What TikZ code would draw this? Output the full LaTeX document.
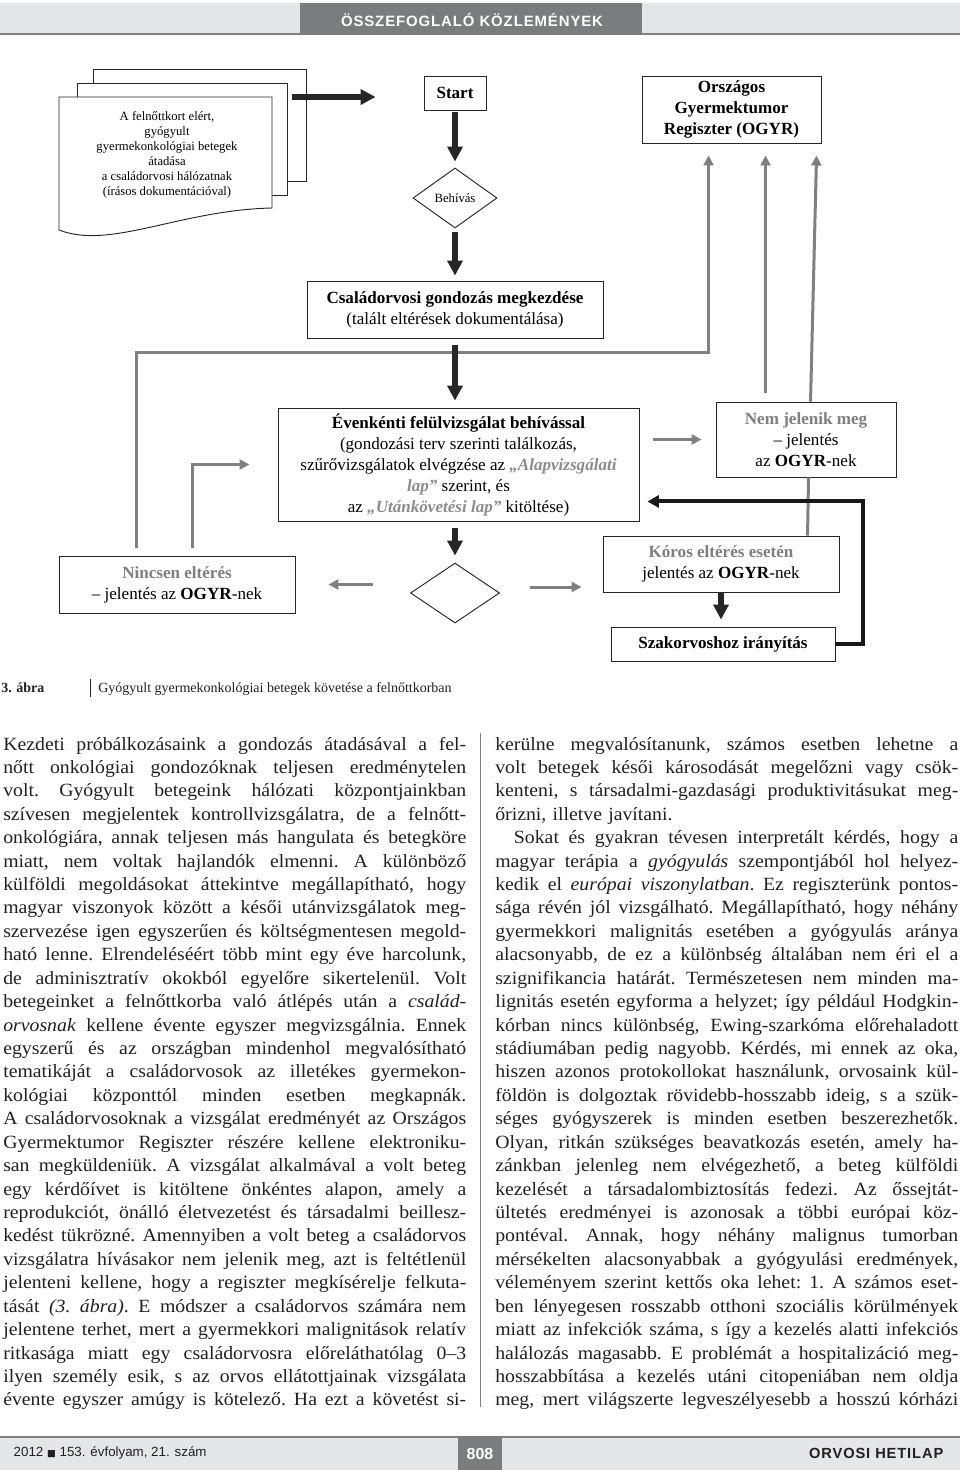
\documentclass[tikz,border=0pt]{standalone}
\usepackage{fontspec}
\setmainfont{Liberation Serif}
\newfontfamily\sansf{Liberation Sans}
\newfontfamily\hdfont{Liberation Sans}[LetterSpace=6]
\newfontfamily\bodyf{Liberation Serif}[FakeStretch=1.06]
\newfontfamily\symf{DejaVu Sans}
\usetikzlibrary{arrows.meta,calc,shapes.geometric}
\definecolor{lnGray}{HTML}{808080}
\definecolor{tGray}{HTML}{7F7F7F}
\definecolor{qGray}{HTML}{8C8C8C}
\definecolor{hdLight}{HTML}{E5E6E8}
\definecolor{hdDark}{HTML}{7B7C7E}
\definecolor{txt}{HTML}{231F20}
\newdimen\colw
\colw=347.25pt
\newcommand\bodyset{\bodyf\fontsize{14}{17.57}\selectfont\frenchspacing}
\newcommand\jl[1]{\noindent\hbox to\colw{\spaceskip=0.25em plus 1fil minus 0.1em\relax#1}\par}
\newcommand\il[1]{\noindent\hbox to\colw{\hskip14pt\spaceskip=0.25em plus 1fil minus 0.1em\relax#1}\par}
\newcommand\qt[1]{\textcolor{qGray}{\bfseries\itshape #1}}
\newcommand\gt[1]{\textcolor{tGray}{\bfseries #1}}
\begin{document}
\begin{tikzpicture}[x=0.75pt, y=-0.75pt,
    rbox/.style={draw=black!85, line width=0.7pt, fill=white, inner sep=0pt, align=center, font=\fontsize{12.8}{15.75}\selectfont},
    pg/.style={draw=black!85, line width=0.7pt, fill=white},
    dmd/.style={diamond, draw=black!85, line width=0.7pt, fill=white, inner sep=0pt, font=\fontsize{9.5}{11}\selectfont},
    ablk/.style={line width=4.5pt, black!85, -{Triangle[width=11.25pt,length=11.25pt]}},
    aloop/.style={line width=3pt, black!90, -{Triangle[width=9pt,length=8.5pt]}},
    agry/.style={line width=2.25pt, lnGray, -{Triangle[width=7.5pt,length=7.5pt]}},
    col/.style={anchor=base west, inner sep=0pt, text width=347.25pt, font=\bodyset, text=txt}]
\useasboundingbox (0,0) rectangle (960,1470);
\fill[white] (0,0) rectangle (960,1470);

\fill[hdLight] (0,3) rectangle (960,34);
\draw[lnGray, line width=1pt] (0,34) -- (960,34);
\fill[hdDark] (300,3) rectangle (642,35);
\node[font=\hdfont\bfseries\fontsize{11.2}{13}\selectfont, text=white] (H) at (472,20) {ÖSSZEFOGLALÓ KÖZLEMÉNYEK};

\node[pg, minimum width=159.75pt, minimum height=84pt] (P1) at (199.5,125) {};
\node[pg, minimum width=157.5pt, minimum height=84pt] (P2) at (182,139) {};
\draw[pg] (59,97) -- (272,97) -- (272,208) .. controls (180,210) and (110,250) .. (59,230) -- cycle;
\node[align=center, font=\fontsize{9.5}{11.25}\selectfont] (D) at (167,154.5) {A felnőttkort elért,\\gyógyult\\gyermekonkológiai betegek\\átadása\\a családorvosi hálózatnak\\(írásos dokumentációval)};

\node[rbox, minimum width=46.5pt, minimum height=25.5pt, font=\bfseries\fontsize{12.8}{15}\selectfont] (S) at (455,93) {Start};
\node[dmd, minimum width=63pt, minimum height=45pt] (B) at (455,198) {Behívás};
\node[rbox, minimum width=134.25pt, minimum height=50.25pt, font=\bfseries\fontsize{12.8}{15.75}\selectfont] (O) at (731.5,109.5) {Országos\\Gyermektumor\\Regiszter (OGYR)};
\node[rbox, minimum width=222pt, minimum height=42.75pt] (C) at (455,309.5) {\textbf{Családorvosi gondozás megkezdése}\\(talált eltérések dokumentálása)};
\node[rbox, minimum width=270.75pt, minimum height=84.75pt] (E) at (458.5,464.5) {\textbf{Évenkénti felülvizsgálat behívással}\\(gondozási terv szerinti találkozás,\\szűrővizsgálatok elvégzése az \qt{„Alapvizsgálati}\\\qt{lap”} szerint, és\\az \qt{„Utánkövetési lap”} kitöltése)};
\node[rbox, minimum width=135pt, minimum height=56.25pt] (N) at (806,439.5) {\gt{Nem jelenik meg}\\– jelentés\\az \textbf{OGYR}-nek};
\node[dmd, minimum width=66.75pt, minimum height=45pt] (Q) at (455,593) {};
\node[rbox, minimum width=177pt, minimum height=42.75pt] (F) at (177,584.5) {\gt{Nincsen eltérés}\\– jelentés az \textbf{OGYR}-nek};
\node[rbox, minimum width=177pt, minimum height=42pt] (K) at (721,564) {\gt{Kóros eltérés esetén}\\jelentés az \textbf{OGYR}-nek};
\node[rbox, minimum width=168pt, minimum height=25.5pt, font=\bfseries\fontsize{12.8}{15}\selectfont] (Z) at (723,644) {Szakorvoshoz irányítás};

\draw[agry] ($(F.north west)+(78,-8)$) |- ($(C.south)+(0,14)$) -| ($(O.south west)+(67,12)$);
\draw[agry] ($(F.north west)+(134,-8)$) |- ($(E.west)+(-28,0)$);
\draw[agry] ($(N.north west)+(50,-9)$) -- ($(O.south west)+(124,12)$);
\draw[agry] ($(N.north west)+(95,0)$) -- ($(O.south west)+(175,12)$);
\draw[lnGray, line width=2.25pt] ($(K.north west)+(205,0)$) -- ($(N.south west)+(93,0)$);
\draw[agry, shorten <=10.5pt, shorten >=10.5pt] (E.east |- N.west) -- (N.west);
\draw[agry, shorten <=27.75pt, shorten >=24.75pt] (Q.west |- F.east) -- (F.east);
\draw[agry, shorten <=22.5pt, shorten >=15.75pt] ($(Q.east)+(0,-6)$) -- ($(K.west |- Q.east)+(0,-6)$);

\draw[ablk] ($(P2.east |- S.west)+(5,4)$) -- ($(S.west)+(-48,4)$);
\draw[ablk, shorten <=1.5pt, shorten >=4.5pt] (S.south) -- (B.north);
\draw[ablk, shorten <=3pt, shorten >=3.75pt] (B.south) -- (C.north);
\draw[ablk, shorten <=5.25pt, shorten >=5.25pt] (C.south) -- (C.south |- E.north);
\draw[ablk, shorten <=5.25pt, shorten >=5.25pt] (Q.north |- E.south) -- (Q.north);
\draw[ablk, shorten >=5.25pt] (K.south) -- (K.south |- Z.north);
\draw[aloop] (Z.east) -- ++(28,0) |- ($(E.south east)+(8,-20)$);

\node[anchor=base west, font=\bfseries\fontsize{10.5}{12}\selectfont, text=txt, inner sep=0pt] (T) at (1,692) {3. ábra};
\draw[txt, line width=0.6pt] (90,679) -- (90,697);
\node[anchor=base west, font=\fontsize{10.5}{12}\selectfont, text=txt, inner sep=0pt] (U) at (98,692) {Gyógyult gyermekonkológiai betegek követése a felnőttkorban};

\draw[lnGray, line width=0.6pt] (480,733) -- (480,1407);
\node[col] (LC) at (3,750) {%
\jl{Kezdeti próbálkozásaink a gondozás átadásával a fel-}
\jl{nőtt onkológiai gondozóknak teljesen eredménytelen}
\jl{volt. Gyógyult betegeink hálózati központjainkban}
\jl{szívesen megjelentek kontrollvizsgálatra, de a felnőtt-}
\jl{onkológiára, annak teljesen más hangulata és betegköre}
\jl{miatt, nem voltak hajlandók elmenni. A különböző}
\jl{külföldi megoldásokat áttekintve megállapítható, hogy}
\jl{magyar viszonyok között a késői utánvizsgálatok meg-}
\jl{szervezése igen egyszerűen és költségmentesen megold-}
\jl{ható lenne. Elrendeléséért több mint egy éve harcolunk,}
\jl{de adminisztratív okokból egyelőre sikertelenül. Volt}
\jl{betegeinket a felnőttkorba való átlépés után a \textit{család-}}
\jl{\textit{orvosnak} kellene évente egyszer megvizsgálnia. Ennek}
\jl{egyszerű és az országban mindenhol megvalósítható}
\jl{tematikáját a családorvosok az illetékes gyermekon-}
\jl{kológiai központtól minden esetben megkapnák.}
\jl{A családorvosoknak a vizsgálat eredményét az Országos}
\jl{Gyermektumor Regiszter részére kellene elektroniku-}
\jl{san megküldeniük. A vizsgálat alkalmával a volt beteg}
\jl{egy kérdőívet is kitöltene önkéntes alapon, amely a}
\jl{reprodukciót, önálló életvezetést és társadalmi beillesz-}
\jl{kedést tükrözné. Amennyiben a volt beteg a családorvos}
\jl{vizsgálatra hívásakor nem jelenik meg, azt is feltétlenül}
\jl{jelenteni kellene, hogy a regiszter megkísérelje felkuta-}
\jl{tását \textit{(3. ábra)}. E módszer a családorvos számára nem}
\jl{jelentene terhet, mert a gyermekkori malignitások relatív}
\jl{ritkasága miatt egy családorvosra előreláthatólag 0–3}
\jl{ilyen személy esik, s az orvos ellátottjainak vizsgálata}
\jl{évente egyszer amúgy is kötelező. Ha ezt a követést si-}};
\node[col] (RC) at (495,750) {%
\jl{kerülne megvalósítanunk, számos esetben lehetne a}
\jl{volt betegek késői károsodását megelőzni vagy csök-}
\jl{kenteni, s társadalmi-gazdasági produktivitásukat meg-}
\noindent\hbox{őrizni, illetve javítani.}\par
\il{Sokat és gyakran tévesen interpretált kérdés, hogy a}
\jl{magyar terápia a \textit{gyógyulás} szempontjából hol helyez-}
\jl{kedik el \textit{európai viszonylatban}. Ez regiszterünk pontos-}
\jl{sága révén jól vizsgálható. Megállapítható, hogy néhány}
\jl{gyermekkori malignitás esetében a gyógyulás aránya}
\jl{alacsonyabb, de ez a különbség általában nem éri el a}
\jl{szignifikancia határát. Természetesen nem minden ma-}
\jl{lignitás esetén egyforma a helyzet; így például Hodgkin-}
\jl{kórban nincs különbség, Ewing-szarkóma előrehaladott}
\jl{stádiumában pedig nagyobb. Kérdés, mi ennek az oka,}
\jl{hiszen azonos protokollokat használunk, orvosaink kül-}
\jl{földön is dolgoztak rövidebb-hosszabb ideig, s a szük-}
\jl{séges gyógyszerek is minden esetben beszerezhetők.}
\jl{Olyan, ritkán szükséges beavatkozás esetén, amely ha-}
\jl{zánkban jelenleg nem elvégezhető, a beteg külföldi}
\jl{kezelését a társadalombiztosítás fedezi. Az őssejtát-}
\jl{ültetés eredményei is azonosak a többi európai köz-}
\jl{pontéval. Annak, hogy néhány malignus tumorban}
\jl{mérsékelten alacsonyabbak a gyógyulási eredmények,}
\jl{véleményem szerint kettős oka lehet: 1. A számos eset-}
\jl{ben lényegesen rosszabb otthoni szociális körülmények}
\jl{miatt az infekciók száma, s így a kezelés alatti infekciós}
\jl{halálozás magasabb. E problémát a hospitalizáció meg-}
\jl{hosszabbítása a kezelés utáni citopeniában nem oldja}
\jl{meg, mert világszerte legveszélyesebb a hosszú kórházi}};

\fill[hdLight] (0,1438) rectangle (960,1470);
\draw[lnGray, line width=1.2pt] (0,1437) -- (960,1437);
\fill[hdDark] (458,1436) rectangle (502,1470);
\node[anchor=west, font=\sansf\fontsize{10}{12}\selectfont, text=txt] (Y) at (9,1453) {2012 {\symf\fontsize{7}{8}\selectfont ■} 153. évfolyam, 21. szám};
\node[font=\sansf\bfseries\fontsize{12}{14}\selectfont, text=white] (PN) at (480,1454) {808};
\node[anchor=east, font=\hdfont\bfseries\fontsize{11}{13}\selectfont, text=txt] (J) at (948,1453) {ORVOSI HETILAP};
\end{tikzpicture}
\end{document}
